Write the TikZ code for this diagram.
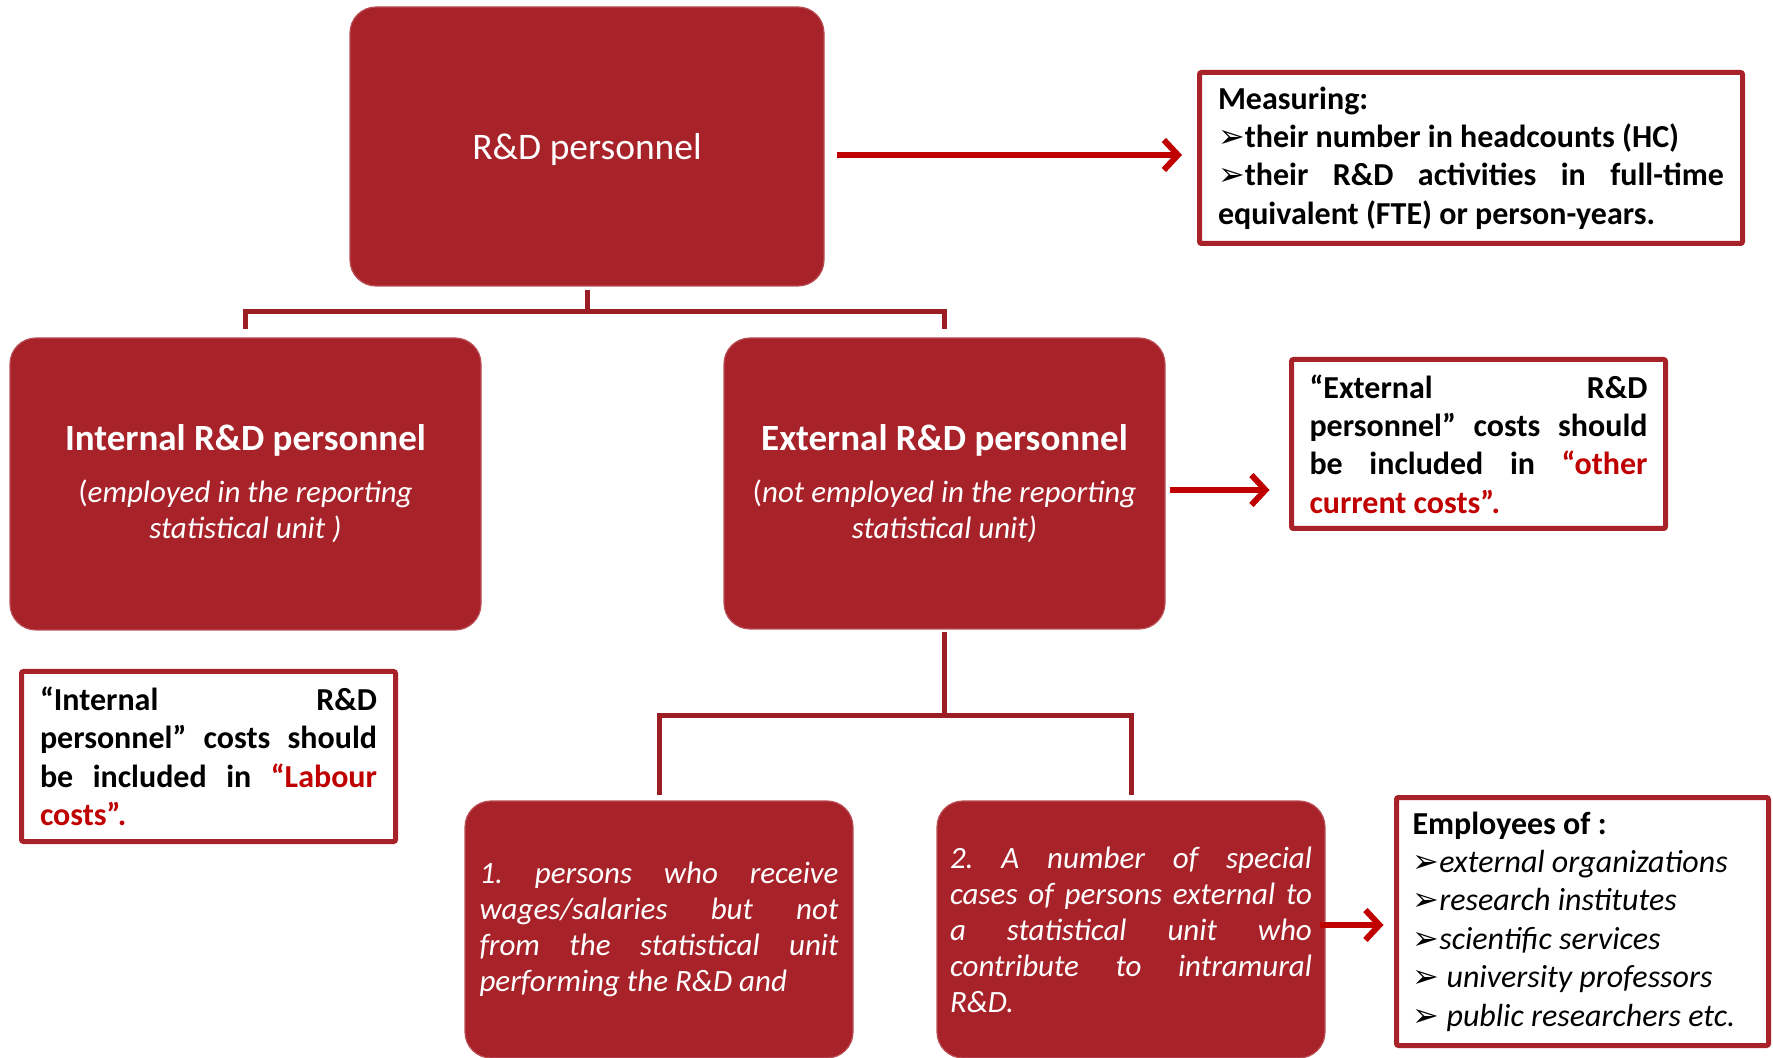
\documentclass[tikz,border=0pt]{standalone}
\usepackage{fontspec}
\setmainfont{Carlito}
\newfontfamily\symfont[Scale=1.0]{DejaVu Sans}
\usetikzlibrary{arrows.meta,calc}

\definecolor{boxred}{HTML}{A8222A}
\definecolor{linkred}{HTML}{9B1E25}
\definecolor{arrowred}{HTML}{C00000}

% the font's own interword glue instead of the fixed ragged-right spacing
\newcommand{\ns}{\spaceskip=0pt\xspaceskip=0pt\relax}
% a line whose spaces stretch to the full text width
\newcommand{\jl}[1]{\makebox[\hsize][s]{\ns #1}}
% a line set at its natural width
\newcommand{\nl}[1]{\mbox{\ns #1}}
\newcommand{\pointer}{{\symfont ➢}}

\begin{document}
\begin{tikzpicture}[x=0.5pt,y=-0.5pt,
  redbox/.style={fill=boxred, draw=boxred!80!white, line width=0.6pt,
    rounded corners=13pt, text=white, inner ysep=0pt},
  notebox/.style={draw=boxred, line width=2.5pt, fill=white,
    rounded corners=1pt, inner ysep=0pt, align=left,
    font=\fontsize{16}{19.2}\selectfont\bfseries},
  link/.style={draw=linkred, line width=2.5pt, line join=miter},
  pointarrow/.style={draw=arrowred, line width=3pt,
    -{Straight Barb[length=7pt,width=15pt]}},
]
\useasboundingbox (0,0) rectangle (1773,1058);

% main boxes
\node[redbox, minimum width=237pt, minimum height=139.5pt, text depth=0pt,
  font=\fontsize{18.75}{22}\selectfont] (top) at (587,146.5) {R\&D personnel};

\node[redbox, minimum width=235.5pt, minimum height=146pt, text width=220pt,
  inner xsep=7.75pt, align=center, font=\fontsize{15.5}{18}\selectfont]
  (int) at (245.5,484)
  {\nl{\fontsize{18.5}{22}\selectfont\bfseries Internal R\&D personnel}\\[8pt]
   \nl{(\textit{employed in the reporting}}\\
   \nl{\textit{statistical unit )}}};

\node[redbox, minimum width=220.5pt, minimum height=145.5pt, text width=210pt,
  inner xsep=5.25pt, align=center, font=\fontsize{15.5}{18}\selectfont]
  (ext) at (944.5,483.5)
  {\nl{\fontsize{18.5}{22}\selectfont\bfseries External R\&D personnel}\\[8pt]
   \nl{(\textit{not employed in the reporting}}\\
   \nl{\textit{statistical unit)}}};

\node[redbox, minimum width=194pt, minimum height=128.5pt, text width=179.5pt,
  inner xsep=7.25pt, align=left,
  font=\fontsize{15.5}{18}\selectfont\itshape] (b1) at (659,929.5)
  {\jl{1.\ persons who receive}\\
   \jl{wages/salaries but not}\\
   \jl{from the statistical unit}\\
   \nl{performing the R\&D and}};

\node[redbox, minimum width=194pt, minimum height=128.5pt, text width=181pt,
  inner xsep=6.5pt, align=left,
  font=\fontsize{15.5}{18}\selectfont\itshape] (b2) at (1131,929.5)
  {\jl{2.\ A number of special}\\
   \jl{cases of persons external to}\\
   \jl{a statistical unit who}\\
   \jl{contribute to intramural}\\
   R\&D.};

% framed notes
\node[notebox, minimum width=271.5pt, minimum height=85.5pt, text width=253pt,
  inner xsep=9.25pt] (meas) at (1471,158)
  {Measuring:\\
   \nl{\pointer their number in headcounts (HC)}\\
   \jl{\pointer their R\&D activities in full-time}\\
   \nl{equivalent (FTE) or person-years.}};

\node[notebox, minimum width=187pt, minimum height=84.5pt, text width=169pt,
  inner xsep=9pt] (extc) at (1478.5,444)
  {\jl{“External R\&D}\\
   \jl{personnel” costs should}\\
   \jl{be included in \textcolor{arrowred}{“other}}\\
   \nl{\textcolor{arrowred}{current costs”.}}};

\node[notebox, minimum width=187pt, minimum height=85pt, text width=168.5pt,
  inner xsep=9.25pt] (intc) at (208.5,756.5)
  {\jl{“Internal R\&D}\\
   \jl{personnel” costs should}\\
   \jl{be included in \textcolor{arrowred}{“Labour}}\\
   \nl{\textcolor{arrowred}{costs”.}}};

\node[notebox, minimum width=186pt, minimum height=124pt, text width=170pt,
  inner xsep=8pt, font=\fontsize{16}{19.2}\selectfont] (emp) at (1582.5,921.5)
  {\nl{\textbf{Employees of :}}\\
   \nl{\pointer\textit{external organizations}}\\
   \nl{\pointer\textit{research institutes}}\\
   \nl{\pointer\textit{scientific services}}\\
   \nl{\pointer\ \textit{university professors}}\\
   \nl{\pointer\ \textit{public researchers etc.}}};

% tree connectors
\coordinate (j1) at ($(top.south)+(0pt,-12.5pt)$);
\draw[link] ($(top.south)+(0pt,-1.5pt)$) -- (j1);
\draw[link] ($(int.north)+(0pt,4pt)$) -- (int.north |- j1) -- (ext.north |- j1)
  -- ($(ext.north)+(0pt,4pt)$);

\coordinate (j2) at ($(ext.south)+(0pt,-43pt)$);
\draw[link] ($(ext.south)+(0pt,-1pt)$) -- (j2);
\draw[link] ($(b1.north)+(0pt,2.5pt)$) -- (b1.north |- j2) -- (b2.north |- j2)
  -- ($(b2.north)+(0pt,2.5pt)$);

% arrows to the notes
\draw[pointarrow] ($(top.east |- meas.west)+(6pt,1.5pt)$)
  -- ($(meas.west)+(-7.5pt,1.5pt)$);
\draw[pointarrow] ($(ext.east)+(2pt,-3.25pt)$)
  -- ($(ext.east -| extc.west)+(-9.75pt,-3.25pt)$);
\draw[pointarrow] ($(b2.east)+(-3pt,2.25pt)$)
  -- ($(b2.east -| emp.west)+(-5.25pt,2.25pt)$);
\end{tikzpicture}
\end{document}
